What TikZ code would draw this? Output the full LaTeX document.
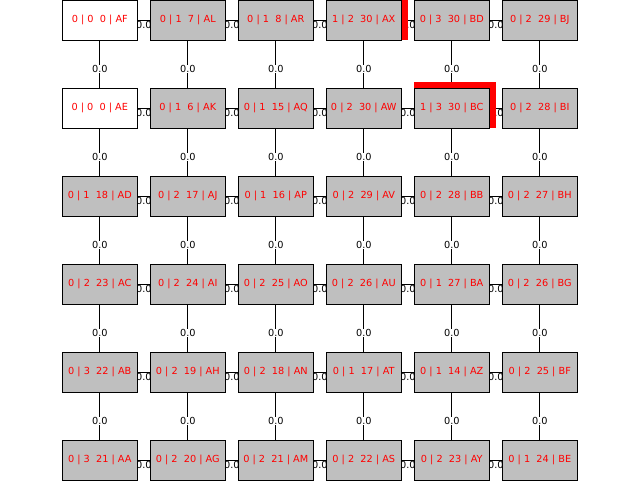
\documentclass[tikz,border=0pt]{standalone}
\usepackage{fontspec}
\setmainfont{DejaVu Sans}
\definecolor{silverc}{RGB}{191,191,191}
\pgfdeclarelayer{bg}
\pgfdeclarelayer{mid}
\pgfsetlayers{bg,mid,main}
\begin{document}
\begin{tikzpicture}[x=0.75pt,y=-0.75pt,
  cell/.style={draw=black,line width=0.75pt,fill=silverc,minimum width=56.25pt,minimum height=30pt,inner sep=0pt,text=red,font=\fontsize{7.3}{8}\selectfont},
  wcell/.style={cell,fill=white},
  edge/.style={draw=black,line width=0.75pt},
  lbl/.style={inner sep=0.3pt,fill=white,text=black,font=\fontsize{7.3}{8}\selectfont},
  hilite/.style={fill=red,draw=none}]
\clip (0,0) rectangle (640,480);
% row 0
\node[wcell] (c00) at (99.8,20.3) {0 | 0\ \ 0 | AF};
\node[cell] (c01) at (187.8,20.3) {0 | 1\ \ 7 | AL};
\node[cell] (c02) at (275.8,20.3) {0 | 1\ \ 8 | AR};
\node[cell] (c03) at (363.8,20.3) {1 | 2\ \ 30 | AX};
\node[cell] (c04) at (451.8,20.3) {0 | 3\ \ 30 | BD};
\node[cell] (c05) at (539.8,20.3) {0 | 2\ \ 29 | BJ};
% row 1
\node[wcell] (c10) at (99.8,108.3) {0 | 0\ \ 0 | AE};
\node[cell] (c11) at (187.8,108.3) {0 | 1\ \ 6 | AK};
\node[cell] (c12) at (275.8,108.3) {0 | 1\ \ 15 | AQ};
\node[cell] (c13) at (363.8,108.3) {0 | 2\ \ 30 | AW};
\node[cell] (c14) at (451.8,108.3) {1 | 3\ \ 30 | BC};
\node[cell] (c15) at (539.8,108.3) {0 | 2\ \ 28 | BI};
% row 2
\node[cell] (c20) at (99.8,196.3) {0 | 1\ \ 18 | AD};
\node[cell] (c21) at (187.8,196.3) {0 | 2\ \ 17 | AJ};
\node[cell] (c22) at (275.8,196.3) {0 | 1\ \ 16 | AP};
\node[cell] (c23) at (363.8,196.3) {0 | 2\ \ 29 | AV};
\node[cell] (c24) at (451.8,196.3) {0 | 2\ \ 28 | BB};
\node[cell] (c25) at (539.8,196.3) {0 | 2\ \ 27 | BH};
% row 3
\node[cell] (c30) at (99.8,284.3) {0 | 2\ \ 23 | AC};
\node[cell] (c31) at (187.8,284.3) {0 | 2\ \ 24 | AI};
\node[cell] (c32) at (275.8,284.3) {0 | 2\ \ 25 | AO};
\node[cell] (c33) at (363.8,284.3) {0 | 2\ \ 26 | AU};
\node[cell] (c34) at (451.8,284.3) {0 | 1\ \ 27 | BA};
\node[cell] (c35) at (539.8,284.3) {0 | 2\ \ 26 | BG};
% row 4
\node[cell] (c40) at (99.8,372.3) {0 | 3\ \ 22 | AB};
\node[cell] (c41) at (187.8,372.3) {0 | 2\ \ 19 | AH};
\node[cell] (c42) at (275.8,372.3) {0 | 2\ \ 18 | AN};
\node[cell] (c43) at (363.8,372.3) {0 | 1\ \ 17 | AT};
\node[cell] (c44) at (451.8,372.3) {0 | 1\ \ 14 | AZ};
\node[cell] (c45) at (539.8,372.3) {0 | 2\ \ 25 | BF};
% row 5
\node[cell] (c50) at (99.8,460.3) {0 | 3\ \ 21 | AA};
\node[cell] (c51) at (187.8,460.3) {0 | 2\ \ 20 | AG};
\node[cell] (c52) at (275.8,460.3) {0 | 2\ \ 21 | AM};
\node[cell] (c53) at (363.8,460.3) {0 | 2\ \ 22 | AS};
\node[cell] (c54) at (451.8,460.3) {0 | 2\ \ 23 | AY};
\node[cell] (c55) at (539.8,460.3) {0 | 1\ \ 24 | BE};
\begin{pgfonlayer}{bg}
  \foreach \r in {0,...,5}{
    \foreach \c [evaluate=\c as \n using int(\c+1)] in {0,...,4}{
      \draw[edge] (c\r\c.center) -- (c\r\n.center) coordinate[midway] (hm);
      \node[lbl] at ([yshift=-3.4pt]hm) {0.0};
    }
  }
  \foreach \r [evaluate=\r as \n using int(\r+1)] in {0,...,4}{
    \foreach \c in {0,...,5}{
      \draw[edge] (c\r\c.center) -- (c\n\c.center) coordinate[midway] (vm);
      \node[lbl] at ([yshift=-3.3pt]vm) {0.0};
    }
  }
\end{pgfonlayer}
\begin{pgfonlayer}{mid}
  \fill[hilite] (c03.north west) ++(0,-6) rectangle ([xshift=4.5pt,yshift=0.75pt]c03.south east);
  \fill[hilite] (c14.north west) ++(0,-6) rectangle ([xshift=4.5pt,yshift=0.75pt]c14.south east);
\end{pgfonlayer}
\end{tikzpicture}
\end{document}
